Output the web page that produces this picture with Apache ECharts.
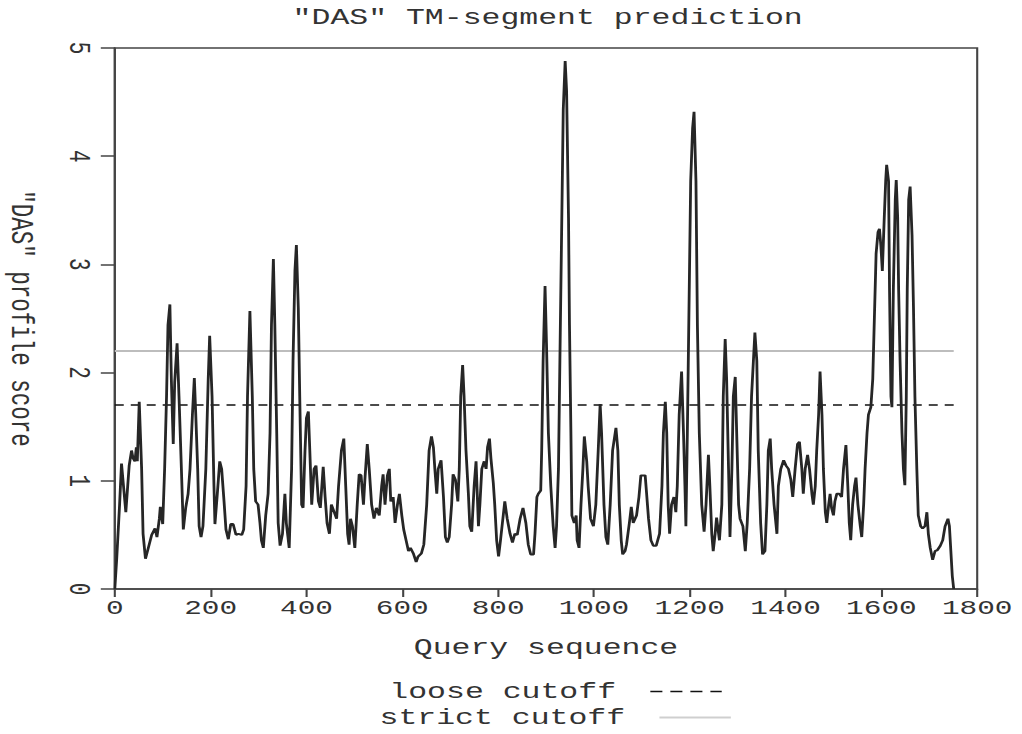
<!DOCTYPE html>
<html>
<head>
<meta charset="utf-8">
<title>"DAS" TM-segment prediction</title>
<script src="https://cdn.jsdelivr.net/npm/echarts@6/dist/echarts.min.js"></script>
<style>
  html, body { margin: 0; padding: 0; background: #fff; overflow: hidden; width: 1022px; height: 734px; }
  /* the plot is laid out narrow and widened, giving the broad typewriter lettering */
  #chart { width: 730px; height: 734px; transform: scaleX(1.4); transform-origin: 0 0; }
</style>
</head>
<body>
<div id="chart"></div>
<script>
// Residue positions along the query sequence
const residues = [
  0, 4, 10, 14, 23, 30, 35, 38, 42, 45, 47, 51, 56, 59, 64, 70, 77, 84, 88, 93,
  95, 100, 104, 108, 111, 115, 118, 122, 125, 130, 134, 139, 143, 148, 153, 157, 162, 166, 169, 173,
  176, 180, 184, 190, 195, 198, 203, 207, 209, 214, 219, 223, 228, 232, 237, 242, 247, 253, 258, 265,
  269, 274, 277, 282, 287, 290, 294, 299, 303, 306, 310, 315, 320, 324, 327, 331, 334, 338, 341, 345,
  350, 355, 358, 364, 369, 372, 376, 379, 383, 386, 390, 393, 397, 400, 404, 407, 411, 416, 420, 425,
  429, 435, 439, 443, 448, 452, 458, 463, 467, 473, 478, 482, 486, 489, 492, 496, 501, 506, 510, 514,
  519, 522, 527, 531, 536, 541, 546, 552, 557, 560, 564, 569, 573, 576, 581, 585, 590, 594, 599, 603,
  608, 613, 617, 623, 629, 633, 640, 645, 651, 656, 661, 665, 668, 672, 675, 681, 686, 690, 694, 698,
  703, 706, 711, 716, 719, 722, 726, 729, 733, 738, 741, 745, 750, 754, 759, 762, 766, 771, 775, 778,
  782, 785, 790, 793, 797, 801, 805, 809, 814, 819, 825, 830, 835, 840, 846, 852, 858, 863, 868, 874,
  877, 881, 884, 889, 891, 894, 898, 901, 905, 910, 915, 919, 922, 926, 929, 933, 936, 940, 943, 947,
  949, 952, 954, 959, 963, 965, 969, 973, 977, 980, 985, 988, 993, 999, 1004, 1009, 1013, 1016, 1021, 1025,
  1029, 1034, 1039, 1046, 1050, 1053, 1057, 1060, 1065, 1068, 1074, 1078, 1082, 1086, 1089, 1094, 1098, 1107, 1110, 1114,
  1119, 1124, 1130, 1137, 1142, 1145, 1149, 1152, 1155, 1158, 1162, 1167, 1171, 1174, 1178, 1183, 1187, 1190, 1192, 1195,
  1199, 1202, 1206, 1209, 1213, 1216, 1220, 1225, 1230, 1234, 1239, 1242, 1246, 1249, 1253, 1256, 1262, 1267, 1270, 1274,
  1277, 1281, 1284, 1288, 1291, 1295, 1298, 1302, 1305, 1311, 1316, 1320, 1325, 1329, 1336, 1340, 1343, 1348, 1352, 1357,
  1361, 1364, 1368, 1371, 1376, 1382, 1385, 1390, 1396, 1401, 1406, 1411, 1415, 1420, 1425, 1429, 1434, 1437, 1441, 1446,
  1450, 1455, 1458, 1462, 1465, 1469, 1472, 1476, 1479, 1483, 1486, 1490, 1493, 1496, 1500, 1503, 1507, 1512, 1517, 1521,
  1526, 1530, 1533, 1536, 1540, 1544, 1547, 1551, 1556, 1559, 1563, 1566, 1570, 1573, 1578, 1582, 1585, 1589, 1593, 1596,
  1599, 1602, 1606, 1609, 1611, 1615, 1617, 1620, 1622, 1625, 1629, 1631, 1634, 1636, 1639, 1643, 1646, 1649, 1652, 1654,
  1657, 1660, 1664, 1667, 1670, 1674, 1677, 1682, 1686, 1691, 1695, 1698, 1702, 1707, 1712, 1717, 1723, 1728, 1733, 1739,
  1742, 1745, 1748, 1751
];

// "DAS" profile score at each residue position
const scores = [
  0.00, 0.28, 0.78, 1.16, 0.71, 1.14, 1.28, 1.21, 1.18, 1.31, 1.18, 1.73, 1.11, 0.51, 0.28, 0.38, 0.50, 0.56, 0.48, 0.65,
  0.76, 0.60, 1.11, 1.78, 2.44, 2.63, 1.94, 1.34, 1.91, 2.27, 1.78, 1.11, 0.55, 0.75, 0.88, 1.11, 1.61, 1.95, 1.61, 1.11,
  0.58, 0.48, 0.58, 1.11, 1.94, 2.34, 1.78, 0.95, 0.60, 0.88, 1.18, 1.11, 0.81, 0.55, 0.46, 0.60, 0.60, 0.50, 0.51, 0.50,
  0.55, 0.95, 1.78, 2.57, 1.78, 1.11, 0.81, 0.78, 0.61, 0.45, 0.38, 0.68, 0.88, 1.44, 2.44, 3.05, 2.44, 1.44, 0.61, 0.40,
  0.51, 0.88, 0.61, 0.38, 1.11, 2.11, 2.94, 3.18, 2.60, 1.78, 0.78, 0.75, 1.28, 1.58, 1.64, 1.28, 0.78, 1.11, 1.14, 0.81,
  0.75, 1.13, 0.85, 0.61, 0.51, 0.78, 0.71, 0.65, 0.95, 1.28, 1.39, 0.95, 0.51, 0.41, 0.65, 0.58, 0.38, 0.78, 1.06, 1.05,
  0.78, 1.01, 1.34, 1.11, 0.78, 0.65, 0.75, 0.68, 0.95, 1.06, 0.78, 1.05, 1.11, 0.81, 0.85, 0.61, 0.78, 0.88, 0.68, 0.55,
  0.45, 0.35, 0.38, 0.33, 0.25, 0.30, 0.33, 0.41, 0.78, 1.28, 1.41, 1.31, 1.11, 0.88, 1.11, 1.19, 0.85, 0.48, 0.43, 0.48,
  0.78, 1.06, 1.01, 0.81, 1.11, 1.78, 2.07, 1.78, 1.28, 0.88, 0.58, 0.53, 0.95, 1.18, 0.58, 0.78, 1.11, 1.18, 1.11, 1.31,
  1.39, 1.21, 0.98, 0.78, 0.45, 0.30, 0.45, 0.61, 0.81, 0.65, 0.51, 0.43, 0.51, 0.50, 0.65, 0.75, 0.61, 0.41, 0.32, 0.32,
  0.51, 0.85, 0.88, 0.91, 1.28, 2.11, 2.80, 2.27, 1.44, 0.95, 0.58, 0.38, 0.58, 1.11, 2.11, 3.43, 4.43, 4.88, 4.60, 3.43,
  2.44, 1.44, 0.68, 0.61, 0.68, 0.45, 0.38, 0.78, 1.11, 1.41, 1.18, 0.95, 0.65, 0.58, 0.78, 1.28, 1.71, 1.44, 0.78, 0.48,
  0.41, 0.78, 1.28, 1.49, 1.28, 0.78, 0.45, 0.32, 0.35, 0.41, 0.61, 0.76, 0.61, 0.65, 0.68, 0.85, 1.05, 1.05, 0.88, 0.65,
  0.45, 0.40, 0.40, 0.51, 0.95, 1.44, 1.73, 1.44, 0.78, 0.51, 0.78, 0.85, 0.71, 0.95, 1.61, 2.01, 1.44, 0.95, 0.58, 1.44,
  2.77, 3.77, 4.26, 4.41, 3.77, 2.44, 1.44, 0.78, 0.53, 0.78, 1.24, 0.95, 0.51, 0.35, 0.51, 0.66, 0.45, 0.78, 1.78, 2.31,
  1.94, 1.11, 0.48, 1.11, 1.78, 1.96, 1.44, 0.78, 0.65, 0.58, 0.35, 0.61, 1.11, 1.78, 2.37, 2.11, 1.28, 0.61, 0.32, 0.35,
  0.78, 1.28, 1.39, 1.11, 0.78, 0.51, 0.95, 1.11, 1.19, 1.14, 1.11, 1.01, 0.85, 1.11, 1.34, 1.36, 1.11, 0.88, 1.11, 1.24,
  1.11, 0.88, 0.78, 0.95, 1.28, 1.61, 2.01, 1.61, 1.11, 0.71, 0.61, 0.78, 0.88, 0.75, 0.68, 0.81, 0.88, 0.88, 0.85, 1.11,
  1.33, 0.95, 0.61, 0.45, 0.78, 0.95, 1.03, 0.78, 0.58, 0.48, 0.78, 1.11, 1.44, 1.61, 1.68, 1.94, 2.44, 3.10, 3.30, 3.33,
  3.17, 2.94, 3.43, 3.77, 3.92, 3.77, 2.77, 1.78, 1.68, 2.77, 3.60, 3.78, 3.43, 2.77, 2.11, 1.44, 1.11, 0.96, 1.78, 2.77,
  3.60, 3.72, 3.27, 2.60, 1.78, 1.11, 0.68, 0.58, 0.56, 0.58, 0.71, 0.51, 0.38, 0.27, 0.35, 0.36, 0.40, 0.45, 0.58, 0.65,
  0.58, 0.35, 0.12, 0.00
];

// Cutoff levels and the span they are drawn over
const looseCutoff = 1.7;
const strictCutoff = 2.2;
const cutoffSpan = [0, 1751];

// Axis ranges and tick steps
const xRange = [0, 1800];
const xStep = 200;
const yRange = [0, 5];
const yStep = 1;

const profile = residues.map((r, i) => [r, scores[i]]);
const looseLine = cutoffSpan.map(x => [x, looseCutoff]);
const strictLine = cutoffSpan.map(x => [x, strictCutoff]);

const mono = "'Liberation Mono', 'Courier New', 'DejaVu Sans Mono', monospace";
const ink = '#333';
const frame = '#444';
const looseColor = '#111';
const strictColor = '#bdbdbd';

const chart = echarts.init(document.getElementById('chart'), null, {
  renderer: 'svg', width: 730, height: 734
});

// legend entry: text on the left, a bare line sample on the right
function legendEntry(name, left, top, lineStyle) {
  return {
    data: [name], orient: 'vertical', align: 'right',
    left: left, top: top, padding: 0, selectedMode: false,
    itemWidth: 51, itemHeight: 14,
    itemStyle: { opacity: 0 },
    textStyle: { fontFamily: mono, fontSize: 22.5, color: ink, padding: [0, 19.5, 12, 0] },
    lineStyle: lineStyle
  };
}

chart.setOption({
  animation: false,
  backgroundColor: '#fff',
  title: {
    text: '"DAS" TM-segment prediction',
    left: 204, top: 1,
    textStyle: { fontFamily: mono, fontSize: 22.5, fontWeight: 'normal', color: ink }
  },
  grid: {
    left: 82, right: 32, top: 48, bottom: 145,
    show: true, borderColor: frame, borderWidth: 1.5,
    outerBoundsMode: 'none'
  },
  xAxis: {
    type: 'value', min: xRange[0], max: xRange[1], interval: xStep,
    name: 'Query sequence', nameLocation: 'middle', nameGap: 47, nameMoveOverlap: false,
    nameTextStyle: { fontFamily: mono, fontSize: 22.5, color: ink },
    axisLine: { show: true, onZero: false, lineStyle: { color: frame, width: 1.5 } },
    axisTick: { show: true, inside: false, length: 8, lineStyle: { color: frame, width: 1.5 } },
    axisLabel: { margin: 9, fontFamily: mono, fontSize: 21, color: ink, formatter: v => String(v) },
    splitLine: { show: false }
  },
  yAxis: {
    type: 'value', min: yRange[0], max: yRange[1], interval: yStep,
    name: '"DAS" profile score', nameLocation: 'middle', nameRotate: -90, nameGap: 56, nameMoveOverlap: false,
    nameTextStyle: { fontFamily: mono, fontSize: 22.5, color: ink },
    axisLine: { show: true, onZero: false, lineStyle: { color: frame, width: 1.5 } },
    axisTick: { show: true, inside: false, length: 10, lineStyle: { color: frame, width: 1.5 } },
    axisLabel: { rotate: -90, margin: 16, fontFamily: mono, fontSize: 21, color: ink, formatter: v => String(v) },
    splitLine: { show: false }
  },
  legend: [
    legendEntry('loose cutoff', 278, 680, { color: looseColor, width: 1.5, type: [8.6, 5.7] }),
    legendEntry('strict cutoff', 271, 706, { color: '#cfcfcf', width: 2, type: 'solid' })
  ],
  series: [
    {
      name: 'strict cutoff', type: 'line', data: strictLine,
      symbol: 'none', silent: true, z: 1,
      itemStyle: { color: strictColor },
      lineStyle: { color: strictColor, width: 2, type: 'solid' }
    },
    {
      name: 'loose cutoff', type: 'line', data: looseLine,
      symbol: 'none', silent: true, z: 2,
      itemStyle: { color: looseColor },
      lineStyle: { color: looseColor, width: 1.5, type: [6.4, 5] }
    },
    {
      name: 'profile', type: 'line', data: profile,
      symbol: 'none', showSymbol: false, silent: true, z: 3,
      itemStyle: { color: '#262626' },
      lineStyle: { color: '#262626', width: 2 }
    }
  ]
});
</script>
</body>
</html>
